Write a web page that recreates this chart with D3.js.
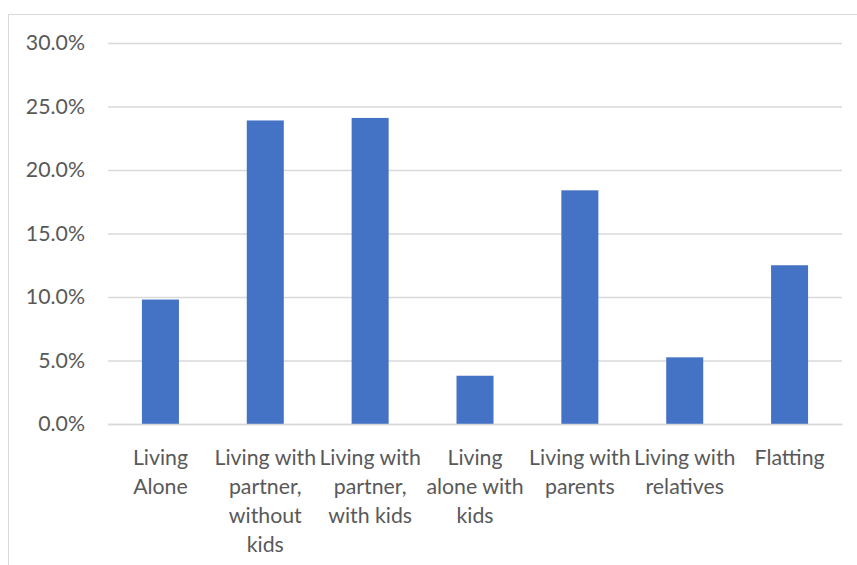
<!DOCTYPE html>
<html>
<head>
<meta charset="utf-8">
<script src="https://cdn.jsdelivr.net/npm/d3@7"></script>
<style>
  html, body { margin: 0; padding: 0; background: #ffffff; }
  svg { display: block; }
</style>
</head>
<body>
<script>
// Household arrangement shares
const categories = [
  "Living Alone",
  "Living with partner, without kids",
  "Living with partner, with kids",
  "Living alone with kids",
  "Living with parents",
  "Living with relatives",
  "Flatting"
];
const tickLabels = [
  ["Living", "Alone"],
  ["Living with", "partner,", "without", "kids"],
  ["Living with", "partner,", "with kids"],
  ["Living", "alone with", "kids"],
  ["Living with", "parents"],
  ["Living with", "relatives"],
  ["Flatting"]
];
const shares = [0.098, 0.239, 0.241, 0.038, 0.184, 0.0525, 0.125];
const yTicks = [0, 0.05, 0.10, 0.15, 0.20, 0.25, 0.30];

const W = 857, H = 565;
const plot = { left: 108, right: 842, top: 43, bottom: 424 };
const font = "Lato, 'Open Sans', sans-serif";
const textColor = "#595959";
const gridColor = "#d9d9d9";
const fontSize = "21.3px";

const svg = d3.select("body").append("svg")
  .attr("width", W).attr("height", H);

// chart area frame
svg.append("rect")
  .attr("x", 8.5).attr("y", 14.5)
  .attr("width", W + 20).attr("height", H + 20)
  .attr("fill", "#ffffff")
  .attr("stroke", gridColor).attr("stroke-width", 1);

const x = d3.scaleBand()
  .domain(categories)
  .range([plot.left, plot.right])
  .paddingInner(0.647)
  .paddingOuter(0.3235);

const y = d3.scaleLinear()
  .domain([0, 0.30])
  .range([plot.bottom, plot.top]);

// horizontal gridlines and value labels
const yAxis = d3.axisLeft(y)
  .tickValues(yTicks)
  .tickFormat(d3.format(".1%"))
  .tickSize(-(plot.right - plot.left))
  .tickPadding(23);

const gy = svg.append("g")
  .attr("transform", `translate(${plot.left},0)`)
  .call(yAxis);
gy.select(".domain").remove();
gy.selectAll(".tick line")
  .attr("stroke", gridColor)
  .attr("stroke-width", 1.3);
gy.selectAll(".tick text")
  .attr("fill", textColor)
  .style("font-family", font)
  .style("font-size", fontSize);

// columns
svg.append("g").selectAll("rect")
  .data(shares)
  .join("rect")
  .attr("x", (d, i) => x(categories[i]))
  .attr("width", x.bandwidth())
  .attr("y", d => y(d))
  .attr("height", d => y(0) - y(d))
  .attr("fill", "#4472C4");

// category axis
const xAxis = d3.axisBottom(x).tickSize(0).tickFormat("");
const gx = svg.append("g")
  .attr("transform", `translate(0,${plot.bottom})`)
  .call(xAxis);
gx.select(".domain")
  .attr("stroke", gridColor)
  .attr("stroke-width", 1.3);

const labels = svg.append("g")
  .selectAll("text")
  .data(categories)
  .join("text")
  .attr("text-anchor", "middle")
  .attr("fill", textColor)
  .style("font-family", font)
  .style("font-size", fontSize)
  .attr("transform", d => `translate(${x(d) + x.bandwidth() / 2},${plot.bottom + 41})`);

labels.selectAll("tspan")
  .data((d, i) => tickLabels[i])
  .join("tspan")
  .attr("x", 0)
  .attr("y", (d, j) => j * 29)
  .text(d => d);
</script>
</body>
</html>
